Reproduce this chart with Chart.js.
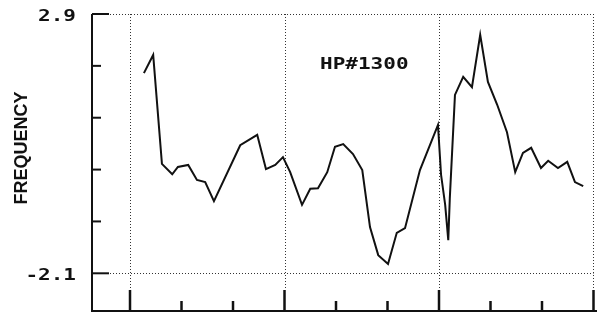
<!DOCTYPE html>
<html>
<head>
<meta charset="utf-8">
<script src="https://cdn.jsdelivr.net/npm/chart.js@4"></script>
<style>
    html, body { margin: 0; padding: 0; background: #fff; }
    #wrap { width: 597px; height: 314px; }
</style>
</head>
<body>
<div id="wrap"><canvas id="freqChart" width="597" height="314"></canvas></div>
<script>
// x is in units of the small bottom ticks (big ticks every 3)
const xValues = [0.27, 0.45, 0.62, 0.82, 0.93, 1.13, 1.30, 1.46, 1.63, 2.14,
                 2.47, 2.64, 2.82, 2.97, 3.11, 3.34, 3.50, 3.65, 3.83, 3.98,
                 4.14, 4.33, 4.51, 4.66, 4.82, 5.01, 5.18, 5.34, 5.63, 5.98,
                 6.04, 6.12, 6.18, 6.21, 6.31, 6.47, 6.64, 6.80, 6.95, 7.13,
                 7.32, 7.48, 7.63, 7.79, 7.98, 8.12, 8.31, 8.49, 8.64, 8.80];
const freqValues = [1.76, 2.11, 0.01, -0.19, -0.05, -0.01, -0.30, -0.34, -0.71, 0.37,
                    0.57, -0.09, -0.01, 0.14, -0.15, -0.78, -0.47, -0.46, -0.15, 0.34,
                    0.39, 0.20, -0.11, -1.21, -1.75, -1.92, -1.32, -1.23, -0.11, 0.76,
                    -0.20, -0.78, -1.46, -0.65, 1.34, 1.69, 1.49, 2.50, 1.59, 1.15,
                    0.62, -0.15, 0.22, 0.32, -0.07, 0.07, -0.07, 0.05, -0.34, -0.42];

const yTickValues = [2.9, 1.9, 0.9, -0.1, -1.1, -2.1];
const yTickLabels = ['2.9', '', '', '', '', '-2.1'];
const xMajorTicks = [0, 3, 6, 9];
const xMinorTicks = [1, 2, 4, 5, 7, 8];

const yAxisTitle = 'FREQUENCY';
const plotLabel = 'HP#1300';

// =========================
// FRAME, TICKS AND TEXT
// =========================
const framePlugin = {
    id: 'frame',
    beforeDatasetsDraw(chart) {
        const { ctx, chartArea: a, scales: { x, y } } = chart;
        const top = y.getPixelForValue(yTickValues[0]);
        const right = x.getPixelForValue(xMajorTicks[xMajorTicks.length - 1]);

        ctx.save();
        ctx.strokeStyle = '#333';
        ctx.lineWidth = 1;
        ctx.setLineDash([1, 2]);
        yTickValues.forEach((v, i) => {
            if (!yTickLabels[i]) return;
            const py = Math.round(y.getPixelForValue(v)) + 0.5;
            ctx.beginPath();
            ctx.moveTo(a.left, py);
            ctx.lineTo(right, py);
            ctx.stroke();
        });
        xMajorTicks.forEach(v => {
            const px = Math.round(x.getPixelForValue(v)) + 0.5;
            ctx.beginPath();
            ctx.moveTo(px, top);
            ctx.lineTo(px, a.bottom - 21);
            ctx.stroke();
        });
        ctx.restore();
    },
    afterDraw(chart) {
        const { ctx, chartArea: a, scales: { x, y } } = chart;
        const top = y.getPixelForValue(yTickValues[0]);

        ctx.save();
        ctx.strokeStyle = '#111';
        ctx.lineWidth = 2;

        // axis lines
        ctx.beginPath();
        ctx.moveTo(a.left, top);
        ctx.lineTo(a.left, a.bottom);
        ctx.lineTo(a.right, a.bottom);
        ctx.stroke();

        // y ticks, pointing in
        yTickValues.forEach((v, i) => {
            const py = y.getPixelForValue(v);
            ctx.beginPath();
            ctx.moveTo(a.left, py);
            ctx.lineTo(a.left + (yTickLabels[i] ? 17 : 9), py);
            ctx.stroke();
        });

        // x ticks, pointing up
        ctx.lineWidth = 2.5;
        xMajorTicks.forEach(v => {
            const px = x.getPixelForValue(v);
            ctx.beginPath();
            ctx.moveTo(px, a.bottom);
            ctx.lineTo(px, a.bottom - 21);
            ctx.stroke();
        });
        xMinorTicks.forEach(v => {
            const px = x.getPixelForValue(v);
            ctx.beginPath();
            ctx.moveTo(px, a.bottom);
            ctx.lineTo(px, a.bottom - 10);
            ctx.stroke();
        });

        // wide bold plotter style text
        ctx.fillStyle = '#111';
        ctx.font = 'bold 15px "DejaVu Sans Mono"';
        ctx.textBaseline = 'middle';
        yTickValues.forEach((v, i) => {
            if (!yTickLabels[i]) return;
            ctx.save();
            ctx.translate(76, y.getPixelForValue(v) + 3);
            ctx.scale(1.4, 1);
            ctx.textAlign = 'right';
            ctx.fillText(yTickLabels[i], 0, 0);
            ctx.restore();
        });

        ctx.save();
        ctx.translate(x.getPixelForValue(3.69), y.getPixelForValue(1.92));
        ctx.scale(1.4, 1);
        ctx.textAlign = 'left';
        ctx.fillText(plotLabel, 0, 0);
        ctx.restore();

        ctx.save();
        ctx.translate(22, 148);
        ctx.rotate(-Math.PI / 2);
        ctx.font = 'bold 18px "Liberation Sans"';
        ctx.textAlign = 'center';
        ctx.fillText(yAxisTitle, 0, 0);
        ctx.restore();

        ctx.restore();
    }
};

const ctx1 = document.getElementById('freqChart');

new Chart(ctx1, {
    type: 'line',
    data: {
        datasets: [{
            label: plotLabel,
            data: xValues.map((v, i) => ({ x: v, y: freqValues[i] })),
            borderColor: '#111',
            borderWidth: 2,
            pointRadius: 0,
            tension: 0,
            fill: false
        }]
    },
    options: {
        responsive: false,
        animation: false,
        devicePixelRatio: 1,
        layout: {
            padding: { left: 92, top: 14, right: 0, bottom: 3 }
        },
        plugins: {
            legend: { display: false },
            tooltip: { enabled: false }
        },
        scales: {
            x: { type: 'linear', min: -0.738, max: 9.068, display: false },
            y: { type: 'linear', min: -2.827, max: 2.9, display: false }
        }
    },
    plugins: [framePlugin]
});
</script>
</body>
</html>
